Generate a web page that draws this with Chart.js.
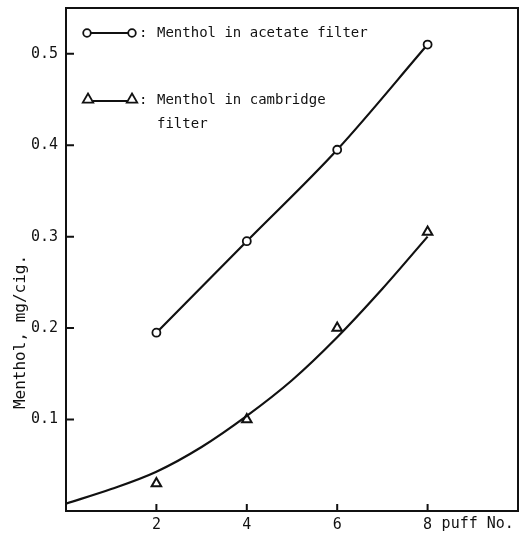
<!DOCTYPE html>
<html>
<head>
<meta charset="utf-8">
<script src="https://cdn.jsdelivr.net/npm/chart.js@4.4.1/dist/chart.umd.min.js"></script>
<style>
html,body{margin:0;padding:0;background:#fff;}
#wrap{width:532px;height:536px;}
</style>
</head>
<body>
<div id="wrap"><canvas id="c" width="532" height="536"></canvas></div>
<script>
// ---- data ----
const puffs = [2, 4, 6, 8];
const acetate = [0.195, 0.295, 0.395, 0.51];
const cambridge = [0.03, 0.10, 0.20, 0.305];
const fitX = [0, 1, 2, 3, 4, 5, 6, 7, 8];
const fitY = [0.008, 0.024, 0.043, 0.07, 0.104, 0.143, 0.19, 0.243, 0.30];
const xTickLabels = [2, 4, 6, 8];
const yTickLabels = [0.1, 0.2, 0.3, 0.4, 0.5];
const legendLabels = ['Menthol in acetate filter', 'Menthol in cambridge', 'filter'];
const yTitle = 'Menthol, mg/cig.';
const xTitle = 'puff No.';

const INK = '#111';
const FONT = '"DejaVu Sans Mono", "Liberation Mono", monospace';

function pts(xs, ys){ return xs.map((x,i)=>({x:x, y:ys[i]})); }

function triangle(ctx, x, y, r){
  ctx.beginPath();
  ctx.moveTo(x, y - r);
  ctx.lineTo(x + r*0.95, y + r*0.65);
  ctx.lineTo(x - r*0.95, y + r*0.65);
  ctx.closePath();
  ctx.fillStyle = '#fff';
  ctx.fill();
  ctx.stroke();
}

const decor = {
  id: 'decor',
  afterDraw(chart){
    const ctx = chart.ctx;
    const a = chart.chartArea;
    const xs = chart.scales.x, ys = chart.scales.y;
    ctx.save();
    ctx.strokeStyle = INK;
    ctx.lineWidth = 2;
    ctx.strokeRect(a.left, a.top, a.right - a.left, a.bottom - a.top);
    // inward ticks
    ctx.beginPath();
    yTickLabels.forEach(v=>{
      const py = ys.getPixelForValue(v);
      ctx.moveTo(a.left, py); ctx.lineTo(a.left + 8, py);
    });
    xTickLabels.forEach(v=>{
      const px = xs.getPixelForValue(v);
      ctx.moveTo(px, a.bottom); ctx.lineTo(px, a.bottom - 7);
    });
    ctx.stroke();

    // x title after the last tick label
    ctx.fillStyle = INK;
    ctx.font = '15px ' + FONT;
    ctx.textBaseline = 'middle';
    ctx.textAlign = 'left';
    ctx.fillText(xTitle, xs.getPixelForValue(8) + 14, a.bottom + 13);

    // y title
    ctx.save();
    ctx.translate(21, 332);
    ctx.rotate(-Math.PI/2);
    ctx.textAlign = 'center';
    ctx.font = '16px ' + FONT;
    ctx.fillText(yTitle, 0, 0);
    ctx.restore();

    // legend
    ctx.lineWidth = 1.8;
    ctx.beginPath(); ctx.moveTo(91, 33); ctx.lineTo(128, 33); ctx.stroke();
    [87, 132].forEach(cx=>{
      ctx.beginPath(); ctx.arc(cx, 33, 3.8, 0, Math.PI*2);
      ctx.fillStyle = '#fff'; ctx.fill(); ctx.stroke();
    });
    ctx.beginPath(); ctx.moveTo(93, 101); ctx.lineTo(127, 101); ctx.stroke();
    triangle(ctx, 88, 99, 5.5);
    triangle(ctx, 132, 99, 5.5);
    ctx.fillStyle = INK;
    ctx.font = '14px ' + FONT;
    ctx.textAlign = 'left';
    ctx.fillText(':', 139, 33);
    ctx.fillText(':', 139, 100);
    ctx.fillText(legendLabels[0], 157, 33);
    ctx.fillText(legendLabels[1], 157, 100);
    ctx.fillText(legendLabels[2], 157, 124);
    ctx.restore();
  }
};

new Chart(document.getElementById('c'), {
  type: 'scatter',
  data: {
    datasets: [
      {
        label: 'acetate',
        data: pts(puffs, acetate),
        showLine: true,
        borderColor: INK,
        borderWidth: 2.2,
        cubicInterpolationMode: 'monotone',
        pointStyle: 'circle',
        pointRadius: 4,
        pointBorderWidth: 1.8,
        pointBackgroundColor: '#fff',
        pointBorderColor: INK
      },
      {
        label: 'cambridge fit',
        data: pts(fitX, fitY),
        showLine: true,
        borderColor: INK,
        borderWidth: 2.2,
        cubicInterpolationMode: 'monotone',
        pointRadius: 0
      },
      {
        label: 'cambridge',
        data: pts(puffs, cambridge),
        showLine: false,
        pointStyle: 'triangle',
        pointRadius: 5.5,
        pointBorderWidth: 2,
        pointBackgroundColor: '#fff',
        pointBorderColor: INK
      }
    ]
  },
  options: {
    responsive: false,
    animation: false,
    layout: { padding: { top: 8, right: 14, left: 0, bottom: 0 } },
    plugins: { legend: { display: false }, tooltip: { enabled: false } },
    scales: {
      x: {
        type: 'linear', min: 0, max: 10,
        afterFit(s){ s.height = 25; s.paddingLeft = 0; s.paddingRight = 0; },
        afterBuildTicks(s){ s.ticks = xTickLabels.map(v=>({value:v})); },
        grid: { display: false, drawTicks: false },
        border: { display: false },
        ticks: {
          padding: 5, color: INK, maxRotation: 0, autoSkip: false,
          font: { family: FONT, size: 15 },
          callback: v => String(v)
        }
      },
      y: {
        type: 'linear', min: 0, max: 0.55,
        afterFit(s){ s.width = 66; s.paddingTop = 0; s.paddingBottom = 0; },
        afterBuildTicks(s){ s.ticks = yTickLabels.map(v=>({value:v})); },
        grid: { display: false, drawTicks: false },
        border: { display: false },
        ticks: {
          padding: 8, color: INK, autoSkip: false,
          font: { family: FONT, size: 15 },
          callback: v => Number(v).toFixed(1)
        }
      }
    }
  },
  plugins: [decor]
});
</script>
</body>
</html>
